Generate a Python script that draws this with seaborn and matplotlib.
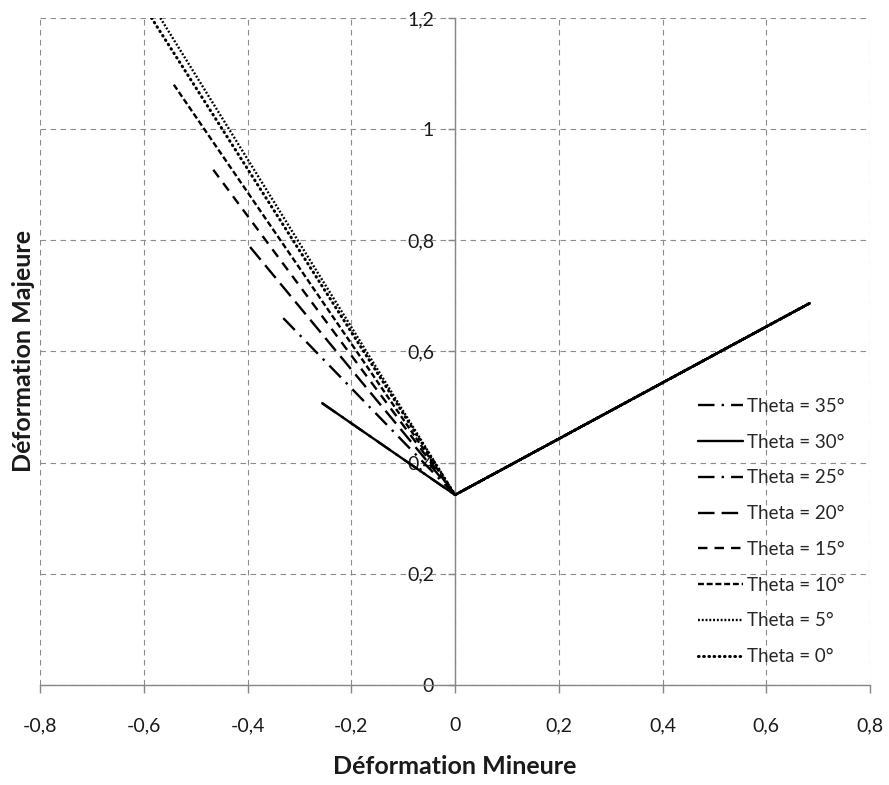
import numpy as np
import pandas as pd
import matplotlib
matplotlib.use("Agg")
import matplotlib.pyplot as plt
from matplotlib.ticker import FuncFormatter, MultipleLocator
import seaborn as sns

# Donnees (courbes limites de formage)
theta = [35, 30, 25, 20, 15, 10, 5, 0]
gauche_x = [-0.256, -0.256, -0.331, -0.395, -0.466, -0.542, -0.568, -0.585]
gauche_y = [0.507, 0.507, 0.660, 0.788, 0.927, 1.080, 1.200, 1.200]
sommet_x = 0.0
sommet_y = 0.342
droite_x = 0.684
droite_y = 0.687

# styles de trait facon Excel
styles = {
    35: (0, (7, 3, 1, 3)),
    30: "-",
    25: (0, (7, 3, 1, 3)),
    20: (0, (7, 3)),
    15: (0, (4, 3)),
    10: (0, (2.5, 1.2)),
    5: (0, (0.8, 0.8)),
    0: (0, (0.2, 1.5)),
}

sns.set_style("white")
plt.rcParams["font.family"] = ["Lato", "DejaVu Sans"]

fig = plt.figure(figsize=(8.89, 7.85), dpi=100)
ax = fig.add_axes([40 / 889, 100 / 785, 830 / 889, 667 / 785])

for t, lx, ly in zip(theta, gauche_x, gauche_y):
    df = pd.DataFrame({"x": [lx, sommet_x, droite_x], "y": [ly, sommet_y, droite_y]})
    sns.lineplot(data=df, x="x", y="y", sort=False, estimator=None, ax=ax,
                 color="black", linewidth=2.2 if t == 0 else 1.7,
                 linestyle=styles[t], label=f"Theta = {t}°", zorder=3,
                 dash_capstyle="round" if t == 0 else "butt")

ax.set_xlim(-0.8, 0.8)
ax.set_ylim(0, 1.2)
ax.xaxis.set_major_locator(MultipleLocator(0.2))
ax.yaxis.set_major_locator(MultipleLocator(0.2))
fmt = FuncFormatter(lambda v, p: f"{round(v, 2):g}".replace(".", ","))
ax.xaxis.set_major_formatter(fmt)
ax.yaxis.set_major_formatter(fmt)

ax.grid(True, color="#8c8c8c", linestyle=(0, (5, 4)), linewidth=0.8)
ax.set_axisbelow(True)

# axes qui se croisent a l'origine
ax.spines["left"].set_position(("data", 0))
ax.spines["right"].set_visible(False)
ax.spines["top"].set_visible(False)
for s in ("left", "bottom"):
    ax.spines[s].set_color("#868686")
    ax.spines[s].set_linewidth(1.0)

ax.tick_params(axis="x", direction="out", length=6, width=1, color="#868686",
               pad=17, labelsize=14, labelcolor="#1a1a1a", bottom=True)
ax.tick_params(axis="y", direction="out", length=5, width=1, color="#868686",
               pad=10, labelsize=14, labelcolor="#1a1a1a", left=True)

ax.set_xlabel("Déformation Mineure", fontsize=18, fontweight="bold", color="#1a1a1a")
ax.set_ylabel("Déformation Majeure", fontsize=18, fontweight="bold", color="#1a1a1a")
ax.xaxis.set_label_coords(0.5, -0.105)
ax.yaxis.set_label_coords(-0.006, 0.5)

ax.legend(loc="upper left", bbox_to_anchor=(0.788, 0.436), frameon=False,
          fontsize=13.5, handlelength=2.4, handletextpad=0.2, labelspacing=1.0,
          borderaxespad=0, borderpad=0.2)

fig.savefig("out.png", dpi=100)
